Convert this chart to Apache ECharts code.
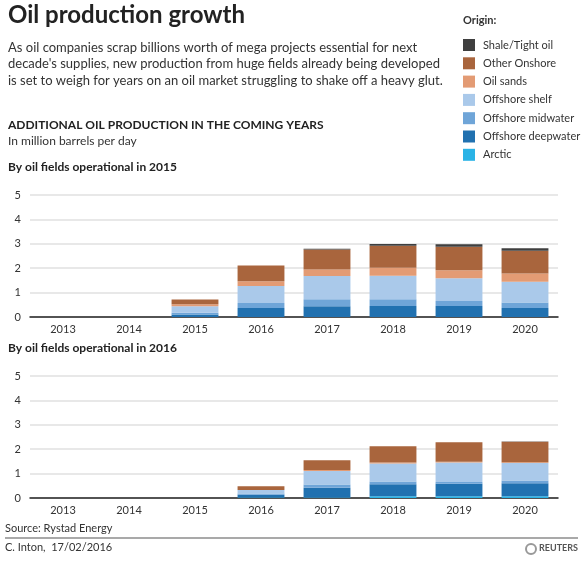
<!DOCTYPE html>
<html>
<head>
<meta charset="utf-8">
<script src="https://cdn.jsdelivr.net/npm/echarts@6/dist/echarts.min.js"></script>
<style>
html,body{margin:0;padding:0;background:#fff;}
#chart{width:583px;height:575px;}
</style>
</head>
<body>
<div id="chart"></div>
<script>
var years = ['2013','2014','2015','2016','2017','2018','2019','2020'];
var yTicks = [0,1,2,3,4,5];

var names = ['Shale/Tight oil','Other Onshore','Oil sands','Offshore shelf','Offshore midwater','Offshore deepwater','Arctic'];
var colors = ['#3f3f3f','#a9653d','#e39b74','#aac9ea','#6fa5d8','#2171b0','#2ab3e6'];

// Fields operational in 2015 (million barrels per day)
var arctic15   = [0,0,0,0,0,0,0,0];
var deep15     = [0,0,0.10,0.37,0.44,0.45,0.45,0.37];
var mid15      = [0,0,0.07,0.20,0.29,0.28,0.21,0.22];
var shelf15    = [0,0,0.27,0.70,0.95,0.96,0.93,0.85];
var sands15    = [0,0,0.08,0.20,0.27,0.33,0.33,0.34];
var onshore15  = [0,0,0.20,0.64,0.82,0.90,0.96,0.94];
var shale15    = [0,0,0,0,0.03,0.07,0.10,0.10];

// Fields operational in 2016
var arctic16   = [0,0,0,0.02,0.02,0.07,0.07,0.07];
var deep16     = [0,0,0,0.11,0.40,0.49,0.51,0.53];
var mid16      = [0,0,0,0.05,0.13,0.12,0.08,0.12];
var shelf16    = [0,0,0,0.15,0.56,0.73,0.79,0.71];
var sands16    = [0,0,0,0,0.04,0.04,0.04,0.04];
var onshore16  = [0,0,0,0.15,0.40,0.67,0.79,0.84];
var shale16    = [0,0,0,0,0,0,0,0.01];

var FONT = 'Lato, "Open Sans", sans-serif';

var chart = echarts.init(document.getElementById('chart'), null, {renderer:'canvas'});

var stacks = [
  {idx:0, data:[shale15,onshore15,sands15,shelf15,mid15,deep15,arctic15]},
  {idx:1, data:[shale16,onshore16,sands16,shelf16,mid16,deep16,arctic16]}
];

var series = [];
stacks.forEach(function(s){
  for (var k = names.length - 1; k >= 0; k--) {
    series.push({
      name: names[k],
      type: 'bar',
      stack: 'g' + s.idx,
      xAxisIndex: s.idx,
      yAxisIndex: s.idx,
      data: s.data[k],
      barCategoryGap: '29%',
      itemStyle: {color: colors[k]},
      emphasis: {disabled: true},
      silent: true
    });
  }
});

function xAx(i){
  return {
    type:'category', gridIndex:i, data: years,
    axisLine:{show:true, lineStyle:{color:'#222', width:1.5}},
    axisTick:{show:false},
    axisLabel:{color:'#333', fontSize:11, fontFamily:FONT, margin:7}
  };
}
function yAx(i){
  return {
    type:'value', gridIndex:i, min:yTicks[0], max:yTicks[yTicks.length-1], interval:1,
    axisLine:{show:false}, axisTick:{show:false},
    axisLabel:{color:'#333', fontSize:11, fontFamily:FONT, margin:9},
    splitLine:{lineStyle:{color:'#e0e0e0', width:1.5}}
  };
}

var txt = function(x, y, text, size, weight, color){
  return {type:'text', left:x, top:y, style:{text:text, fontSize:size, fontWeight:weight||'normal', fontFamily:FONT, fill:color||'#333'}};
};

chart.setOption({
  animation:false,
  grid:[
    {left:30, right:25, top:195, height:122},
    {left:30, right:25, top:376, height:122}
  ],
  xAxis:[xAx(0), xAx(1)],
  yAxis:[yAx(0), yAx(1)],
  legend:{
    data: names.slice(),
    orient:'vertical', left:463, top:39, padding:0,
    icon:'rect', itemWidth:12, itemHeight:12, itemGap:6.3,
    textStyle:{color:'#333', fontSize:11, fontFamily:FONT, padding:[0,0,0,3]},
    selectedMode:false
  },
  series: series,
  graphic:[
    txt(8, 3, 'Oil production growth', 24, 'bold', '#222'),
    txt(8, 41, "As oil companies scrap billions worth of mega projects essential for next", 13, 'normal', '#333'),
    txt(8, 57, "decade's supplies, new production from huge fields already being developed", 13, 'normal', '#333'),
    txt(8, 74, "is set to weigh for years on an oil market struggling to shake off a heavy glut.", 13, 'normal', '#333'),
    txt(8, 119, 'ADDITIONAL OIL PRODUCTION IN THE COMING YEARS', 12, 'bold', '#222'),
    txt(8, 135, 'In million barrels per day', 12, 'normal', '#333'),
    txt(8, 161, 'By oil fields operational in 2015', 12, 'bold', '#222'),
    txt(8, 342, 'By oil fields operational in 2016', 12, 'bold', '#222'),
    txt(463, 15, 'Origin:', 11, 'bold', '#333'),
    txt(5, 523, 'Source: Rystad Energy', 11, 'normal', '#333'),
    {type:'line', shape:{x1:5, y1:538, x2:578, y2:538}, style:{stroke:'#555', lineWidth:1.2}},
    txt(5, 542, 'C. Inton,  17/02/2016', 11, 'normal', '#333'),
    {type:'circle', shape:{cx:531, cy:549, r:5}, style:{fill:'none', stroke:'#999', lineWidth:2}},
    txt(539, 544, 'REUTERS', 9, 'bold', '#555')
  ]
});
</script>
</body>
</html>
